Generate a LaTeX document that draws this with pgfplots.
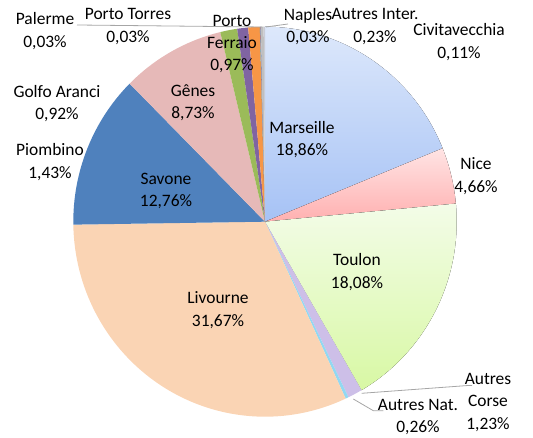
\documentclass[border=0pt]{standalone}
\usepackage{pgfplots}
\pgfplotsset{compat=1.18}
\usepackage{pgfplotstable}
\usepackage{fontspec}
\setmainfont{Carlito}

\definecolor{mA}{HTML}{DDE8FB}\definecolor{mB}{HTML}{A6C2F5}
\definecolor{nA}{HTML}{FFE4E4}\definecolor{nB}{HTML}{FFB0B0}
\definecolor{tA}{HTML}{F3FCE8}\definecolor{tB}{HTML}{D8F8A4}
\definecolor{cCorse}{HTML}{CDBFE8}
\definecolor{cNat}{HTML}{92D8F2}
\definecolor{cLiv}{HTML}{FAD4B4}
\definecolor{cSav}{HTML}{4F81BD}
\definecolor{cGen}{HTML}{E6B9B8}
\definecolor{cPio}{HTML}{9BBB59}
\definecolor{cGolfo}{HTML}{8064A2}
\definecolor{cFer}{HTML}{F79646}
\definecolor{cPal}{HTML}{4BACC6}
\definecolor{cTor}{HTML}{C0504D}
\definecolor{cNap}{HTML}{4F81BD}
\definecolor{cInt}{HTML}{BFBFBF}
\definecolor{cCiv}{HTML}{C9CCD6}
\definecolor{leader}{HTML}{A6A6A6}

\tikzset{
  slice0/.style={top color=mA,bottom color=mB},
  slice1/.style={top color=nA,bottom color=nB},
  slice2/.style={top color=tA,bottom color=tB},
  slice3/.style={fill=cCorse},
  slice4/.style={fill=cNat},
  slice5/.style={fill=cLiv},
  slice6/.style={fill=cSav},
  slice7/.style={fill=cGen},
  slice8/.style={fill=cPio},
  slice9/.style={fill=cGolfo},
  slice10/.style={fill=cFer},
  slice11/.style={fill=cPal},
  slice12/.style={fill=cTor},
  slice13/.style={fill=cNap},
  slice14/.style={fill=cInt},
  slice15/.style={fill=cCiv},
  lab/.style={font=\fontsize{17.5}{22.5}\selectfont, align=center, inner sep=0pt, text=black},
}

\pgfplotstableread{
name value
Marseille 18.86
Nice 4.66
Toulon 18.08
AutresCorse 1.23
AutresNat 0.26
Livourne 31.67
Savone 12.76
Genes 8.73
Piombino 1.43
GolfoAranci 0.92
PortoFerraio 0.97
Palerme 0.03
PortoTorres 0.03
Naples 0.03
AutresInter 0.23
Civitavecchia 0.11
}\pietable

\begin{document}
\begin{tikzpicture}
\gdef\cumsum{0}%
\pgfplotsforeachungrouped \i in {0,...,15}{%
  \pgfplotstablegetelem{\i}{value}\of\pietable
  \pgfmathsetmacro\sa{90-3.6*\cumsum}%
  \pgfmathsetmacro\newcum{\cumsum+\pgfplotsretval}%
  \xdef\cumsum{\newcum}%
  \pgfmathsetmacro\ea{90-3.6*\cumsum}%
  \expandafter\xdef\csname sa\i\endcsname{\sa}%
  \expandafter\xdef\csname ea\i\endcsname{\ea}%
}%
\gdef\cx{265}\gdef\cy{216.3}\gdef\rx{191.7}\gdef\ry{195}%
\begin{axis}[
  x=1bp, y=1bp,
  xmin=0, xmax=533, ymin=0, ymax=438,
  hide axis, clip=false, scale only axis,
]
\path (axis cs:0,0) rectangle (axis cs:533,438);
\pgfplotsinvokeforeach{0,...,15}{
  \fill[slice#1] (axis cs:\cx,\cy) -- (axis cs:{\cx+\rx*cos(\csname sa#1\endcsname)},{\cy+\ry*sin(\csname sa#1\endcsname)})
    arc[start angle=\csname sa#1\endcsname, end angle=\csname ea#1\endcsname, x radius=\rx bp, y radius=\ry bp] -- cycle;
}
% leader lines
\draw[leader, line width=0.8bp] (axis cs:77,413) -- (axis cs:262,411);
\draw[leader, line width=0.8bp] (axis cs:266,411) -- (axis cs:288,414);
\draw[leader, line width=0.8bp] (axis cs:361.7,44.7) -- (axis cs:468,52.5) -- (axis cs:472,52.5);
\draw[leader, line width=0.8bp] (axis cs:353.3,39) -- (axis cs:373.3,27.3) -- (axis cs:383.3,27.3);
% labels
\node[lab] at (axis cs:45,407) {Palerme\\0,03\%};
\node[lab] at (axis cs:128,411.5) {Porto Torres\\0,03\%};
\node[lab] at (axis cs:232,394) {Porto\\Ferraio\\0,97\%};
\node[lab] at (axis cs:308,411.5) {Naples\\0,03\%};
\node[lab] at (axis cs:375,411.5) {Autres Inter.\\0,23\%};
\node[lab] at (axis cs:459,396) {Civitavecchia\\0,11\%};
\node[lab] at (axis cs:57,334.5) {Golfo Aranci\\0,92\%};
\node[lab] at (axis cs:50,276) {Piombino\\1,43\%};
\node[lab] at (axis cs:193,335) {Gênes\\8,73\%};
\node[lab] at (axis cs:166,247) {Savone\\12,76\%};
\node[lab] at (axis cs:302,298.5) {Marseille\\18,86\%};
\node[lab] at (axis cs:476,262) {Nice\\4,66\%};
\node[lab] at (axis cs:357,166) {Toulon\\18,08\%};
\node[lab] at (axis cs:218,128) {Livourne\\31,67\%};
\node[lab] at (axis cs:488,35.5) {Autres\\Corse\\1,23\%};
\node[lab] at (axis cs:418,21) {Autres Nat.\\0,26\%};
\end{axis}
\end{tikzpicture}
\end{document}
